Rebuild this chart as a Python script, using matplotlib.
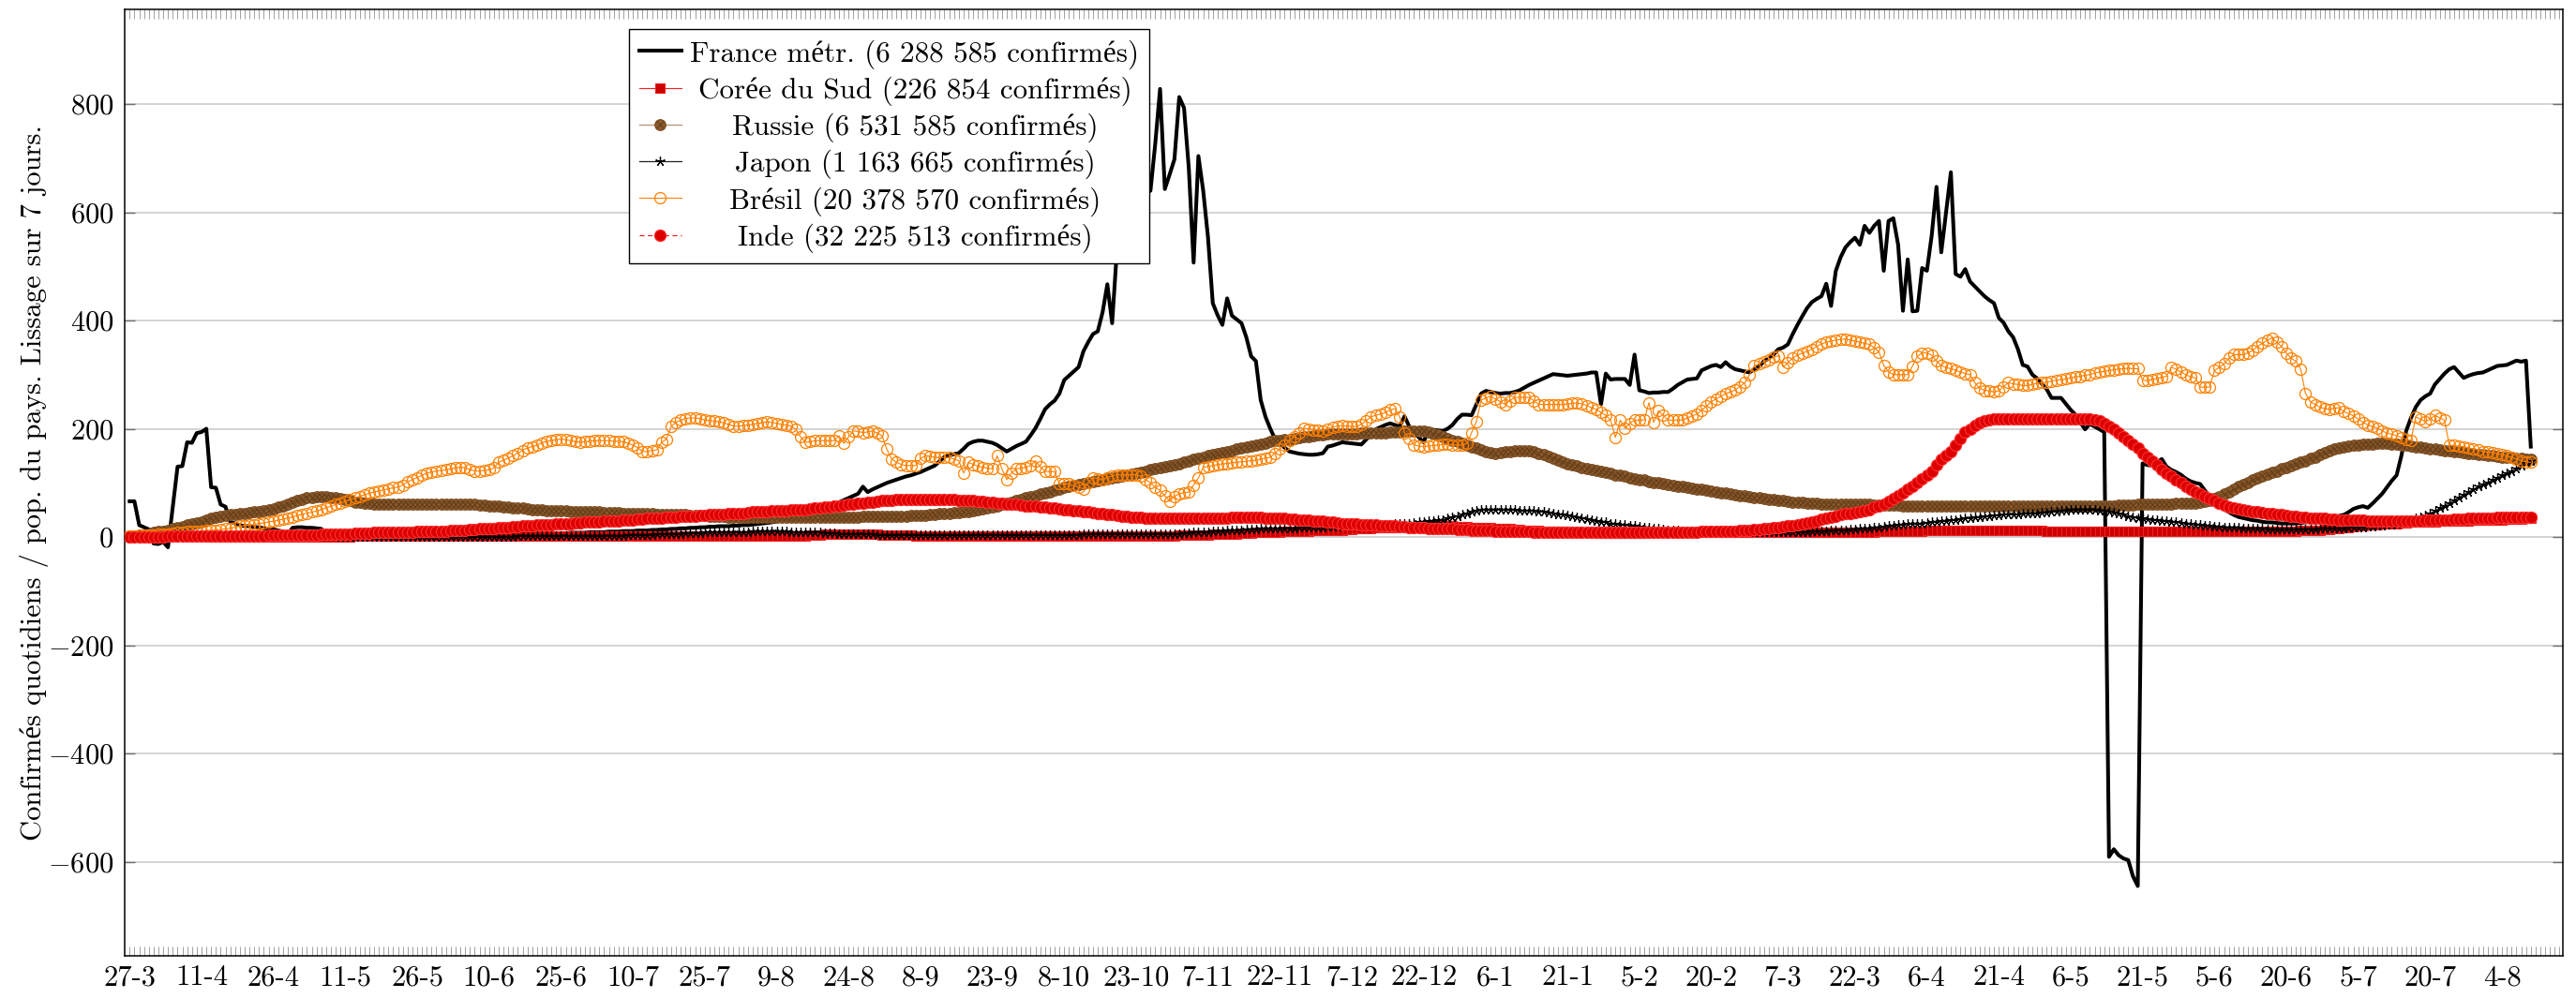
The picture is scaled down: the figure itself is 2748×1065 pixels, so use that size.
import numpy as np
import matplotlib
matplotlib.use("Agg")
import matplotlib.pyplot as plt
from matplotlib.legend_handler import HandlerTuple

plt.rcParams['font.family'] = ['cmr10', 'Liberation Serif', 'DejaVu Serif']
plt.rcParams['mathtext.fontset'] = 'cm'
plt.rcParams['axes.formatter.use_mathtext'] = True
plt.rcParams['axes.unicode_minus'] = True

# ---- data: daily confirmed cases per million (7-day smoothing), from 27-3-2020 ----
tick_labels = ['27-3', '11-4', '26-4', '11-5', '26-5', '10-6', '25-6', '10-7', '25-7', '9-8',
               '24-8', '8-9', '23-9', '8-10', '23-10', '7-11', '22-11', '7-12', '22-12', '6-1',
               '21-1', '5-2', '20-2', '7-3', '22-3', '6-4', '21-4', '6-5', '21-5', '5-6',
               '20-6', '5-7', '20-7', '4-8']

labels = ['France métr. (6 288 585 confirmés)', 'Corée du Sud (226 854 confirmés)',
          'Russie (6 531 585 confirmés)', 'Japon (1 163 665 confirmés)',
          'Brésil (20 378 570 confirmés)', 'Inde (32 225 513 confirmés)']

france = [66, 66, 22, 18, 14, -12, -13, -9, -19, 55, 130, 131, 175, 174, 192,
          194, 200, 92, 91, 60, 56, 28, 25, 22, 20, 20, 18, 18, 16, 15,
          14, 12, 10, 5, 17, 18, 18, 17, 17, 16, 15, 6, 5, 5, 4,
          5, 5, 6, 6, 5, 5, 6, 6, 7, 7, 6, 6, 7, 7, 8,
          8, 8, 7, 7, 8, 8, 8, 9, 9, 8, 8, 7, 7, 7, 7,
          7, 7, 7, 7, 6, 6, 6, 7, 7, 7, 7, 7, 7, 7, 7,
          7, 7, 8, 8, 8, 8, 9, 9, 9, 9, 10, 10, 10, 11, 11,
          11, 12, 12, 12, 13, 13, 14, 14, 15, 15, 16, 16, 17, 17, 18,
          18, 19, 19, 20, 20, 20, 21, 21, 22, 22, 23, 24, 25, 26, 27,
          29, 31, 33, 35, 37, 39, 40, 42, 45, 48, 52, 56, 60, 64, 68,
          72, 76, 80, 93, 83, 88, 92, 96, 100, 103, 106, 109, 112, 114, 117,
          120, 124, 128, 132, 140, 148, 151, 153, 155, 163, 172, 176, 178, 178, 176,
          174, 170, 164, 158, 163, 168, 172, 176, 188, 201, 218, 236, 245, 252, 265,
          290, 298, 306, 314, 343, 360, 375, 380, 415, 467, 395, 530, 555, 575, 595,
          610, 625, 635, 640, 727, 828, 643, 670, 698, 813, 793, 681, 507, 704, 640,
          554, 432, 410, 392, 441, 409, 402, 395, 369, 334, 325, 253, 222, 200, 181,
          172, 165, 158, 156, 154, 153, 152, 152, 153, 155, 167, 169, 172, 175, 174,
          173, 172, 171, 180, 190, 199, 203, 207, 210, 207, 204, 223, 204, 194, 184,
          175, 199, 198, 197, 196, 200, 207, 218, 226, 226, 225, 245, 265, 270, 268,
          266, 265, 266, 266, 268, 271, 276, 281, 285, 289, 293, 297, 301, 300, 299,
          298, 299, 300, 301, 302, 304, 304, 245, 302, 291, 292, 292, 292, 281, 337,
          271, 269, 266, 267, 267, 268, 268, 274, 281, 286, 291, 292, 293, 308, 312,
          316, 318, 314, 323, 315, 310, 308, 306, 304, 310, 315, 325, 330, 337, 347,
          350, 356, 375, 392, 408, 423, 434, 440, 445, 468, 427, 492, 517, 535, 545,
          553, 540, 575, 562, 575, 584, 492, 584, 589, 540, 418, 513, 417, 418, 497,
          492, 557, 647, 526, 600, 674, 486, 481, 495, 472, 463, 454, 445, 438, 432,
          405, 396, 380, 369, 347, 318, 315, 300, 293, 283, 273, 257, 257, 257, 246,
          235, 226, 212, 199, 209, 204, 199, 194, -591, -577, -588, -594, -597, -627, -645,
          136, 133, 132, 138, 144, 130, 124, 120, 115, 108, 103, 100, 98, 86, 74,
          66, 58, 51, 46, 41, 37, 35, 33, 31, 30, 28, 27, 27, 26, 25,
          25, 25, 25, 26, 27, 28, 29, 30, 31, 34, 37, 39, 41, 46, 52,
          55, 57, 54, 62, 71, 80, 92, 104, 114, 150, 196, 220, 240, 253, 260,
          265, 282, 292, 302, 310, 314, 304, 294, 298, 301, 303, 304, 308, 312, 316,
          317, 318, 322, 326, 324, 326, 167]

coree = [2, 2, 2, 2, 2, 2, 1, 1, 1, 1, 1, 1, 1, 1, 1,
         1, 1, 0, 0, 0, 0, 0, 0, 0, 0, 0, 0, 0, 0, 0,
         0, 0, 0, 0, 0, 0, 0, 0, 0, 0, 0, 0, 0, 0, 0,
         0, 0, 1, 1, 1, 1, 1, 1, 1, 1, 1, 1, 1, 1, 1,
         1, 1, 1, 1, 1, 1, 1, 1, 1, 1, 1, 1, 1, 1, 1,
         1, 1, 1, 1, 1, 1, 1, 1, 1, 1, 1, 1, 1, 1, 1,
         1, 1, 1, 1, 1, 1, 1, 1, 1, 1, 1, 1, 1, 1, 1,
         1, 1, 1, 1, 1, 1, 1, 1, 1, 1, 1, 1, 1, 1, 1,
         1, 1, 1, 1, 1, 1, 1, 1, 1, 1, 1, 1, 1, 1, 1,
         1, 1, 1, 1, 1, 2, 2, 3, 4, 4, 5, 5, 5, 6, 6,
         6, 6, 6, 6, 5, 5, 5, 4, 4, 4, 3, 3, 3, 3, 2,
         2, 2, 2, 2, 2, 2, 2, 2, 2, 2, 2, 2, 2, 2, 2,
         2, 2, 2, 1, 1, 1, 1, 1, 1, 2, 2, 2, 2, 2, 2,
         2, 2, 2, 2, 2, 2, 2, 2, 2, 2, 2, 2, 2, 2, 2,
         2, 2, 2, 2, 2, 2, 2, 2, 2, 3, 3, 3, 3, 4, 4,
         4, 5, 5, 5, 6, 6, 6, 7, 7, 7, 8, 8, 8, 9, 9,
         9, 10, 10, 10, 11, 11, 11, 12, 12, 12, 13, 13, 13, 13, 14,
         14, 15, 15, 16, 16, 17, 17, 18, 18, 18, 19, 19, 19, 19, 20,
         20, 20, 20, 20, 20, 20, 20, 19, 19, 19, 18, 18, 18, 17, 17,
         16, 16, 15, 15, 14, 14, 13, 13, 12, 12, 11, 11, 10, 10, 10,
         9, 9, 9, 8, 8, 8, 8, 7, 7, 7, 7, 7, 7, 7, 7,
         7, 7, 8, 8, 8, 8, 8, 8, 8, 8, 8, 8, 8, 8, 8,
         8, 8, 8, 8, 8, 8, 8, 8, 8, 8, 8, 8, 8, 8, 8,
         8, 8, 8, 8, 8, 8, 8, 8, 9, 9, 9, 9, 9, 9, 9,
         9, 9, 9, 9, 9, 10, 10, 10, 10, 10, 11, 11, 11, 11, 11,
         12, 12, 12, 12, 12, 12, 12, 12, 13, 13, 13, 13, 13, 13, 13,
         13, 13, 12, 12, 12, 12, 12, 12, 12, 12, 11, 11, 11, 11, 11,
         11, 11, 11, 11, 11, 11, 11, 11, 11, 11, 11, 11, 11, 11, 11,
         11, 11, 11, 11, 11, 11, 10, 10, 10, 10, 10, 10, 10, 10, 10,
         10, 10, 10, 10, 10, 10, 10, 10, 10, 10, 10, 10, 11, 11, 11,
         11, 11, 11, 12, 12, 12, 13, 13, 14, 14, 15, 16, 17, 18, 19,
         20, 21, 22, 23, 23, 24, 24, 25, 25, 26, 26, 27, 27, 27, 28,
         28, 28, 29, 29, 29, 30, 30, 30, 30, 31, 31, 31, 31, 32, 32,
         32, 33, 33, 33, 33, 34, 34]

russie = [1, 2, 3, 4, 6, 8, 10, 11, 13, 15, 17, 19, 22, 24, 26,
          28, 31, 34, 37, 39, 40, 41, 42, 43, 44, 45, 46, 47, 48, 50,
          52, 55, 58, 61, 64, 67, 70, 72, 73, 74, 74, 74, 73, 72, 71,
          69, 67, 65, 64, 63, 62, 61, 60, 60, 60, 60, 60, 60, 60, 60,
          60, 60, 60, 60, 60, 60, 60, 60, 60, 60, 60, 60, 60, 59, 59,
          58, 58, 57, 56, 55, 54, 53, 53, 52, 51, 50, 50, 49, 49, 48,
          48, 48, 47, 47, 47, 46, 46, 46, 46, 45, 45, 45, 45, 44, 44,
          44, 44, 43, 43, 43, 42, 42, 42, 41, 41, 41, 41, 40, 40, 40,
          40, 39, 39, 38, 38, 37, 37, 37, 36, 36, 36, 36, 36, 36, 36,
          36, 36, 36, 36, 36, 36, 36, 36, 36, 36, 36, 36, 37, 37, 37,
          37, 37, 37, 38, 38, 38, 38, 38, 39, 39, 39, 39, 39, 40, 40,
          40, 40, 41, 42, 43, 44, 44, 45, 45, 46, 46, 48, 50, 52, 54,
          56, 58, 60, 62, 65, 67, 70, 72, 75, 77, 80, 82, 84, 87, 89,
          91, 93, 95, 97, 99, 101, 103, 104, 106, 108, 110, 111, 113, 114, 116,
          118, 120, 122, 124, 126, 128, 130, 132, 134, 136, 139, 141, 144, 146, 148,
          150, 152, 154, 156, 158, 160, 162, 164, 166, 168, 170, 172, 174, 176, 178,
          179, 180, 181, 182, 183, 185, 186, 187, 188, 189, 190, 190, 190, 190, 191,
          191, 191, 192, 192, 192, 193, 193, 193, 194, 194, 194, 195, 195, 196, 196,
          196, 194, 191, 188, 185, 182, 179, 176, 173, 170, 167, 164, 161, 158, 156,
          155, 156, 157, 158, 159, 160, 160, 159, 157, 155, 152, 149, 146, 142, 139,
          136, 134, 131, 129, 127, 125, 123, 121, 119, 117, 115, 114, 112, 110, 108,
          106, 105, 103, 101, 100, 99, 97, 96, 94, 93, 91, 90, 89, 88, 86,
          85, 84, 82, 81, 80, 78, 77, 76, 75, 73, 72, 71, 70, 69, 68,
          67, 66, 65, 64, 64, 63, 62, 62, 61, 61, 61, 60, 60, 60, 60,
          60, 60, 60, 60, 59, 59, 59, 59, 59, 59, 58, 58, 58, 58, 58,
          58, 58, 58, 57, 57, 57, 57, 57, 57, 57, 57, 57, 57, 57, 57,
          57, 57, 57, 57, 57, 57, 57, 57, 57, 57, 57, 57, 57, 57, 57,
          57, 57, 57, 57, 58, 58, 58, 58, 58, 58, 59, 59, 59, 59, 60,
          60, 60, 60, 60, 61, 61, 61, 62, 62, 62, 63, 63, 64, 66, 68,
          71, 75, 80, 84, 89, 93, 97, 101, 105, 109, 112, 116, 119, 122, 126,
          129, 132, 135, 138, 141, 145, 148, 152, 156, 159, 162, 164, 166, 168, 169,
          170, 171, 172, 172, 173, 173, 173, 172, 171, 170, 169, 168, 167, 166, 164,
          163, 162, 161, 160, 159, 158, 157, 156, 155, 154, 153, 152, 151, 150, 149,
          148, 147, 147, 146, 145, 144, 143]

japon = [1, 1, 1, 1, 1, 2, 2, 2, 2, 2, 3, 3, 3, 3, 4,
         4, 4, 4, 4, 4, 4, 4, 4, 4, 3, 3, 3, 3, 3, 2,
         2, 2, 2, 2, 1, 1, 1, 1, 1, 1, 1, 1, 1, 1, 0,
         0, 0, 0, 0, 0, 0, 0, 0, 0, 0, 0, 0, 0, 0, 0,
         0, 0, 0, 0, 0, 0, 0, 0, 0, 0, 0, 0, 0, 0, 0,
         0, 0, 0, 0, 0, 0, 1, 1, 1, 1, 1, 1, 1, 1, 1,
         1, 1, 1, 1, 1, 1, 1, 1, 1, 1, 2, 2, 2, 2, 3,
         3, 3, 4, 4, 4, 5, 5, 5, 6, 6, 6, 7, 7, 7, 7,
         8, 8, 8, 8, 8, 9, 9, 9, 9, 9, 10, 10, 10, 10, 10,
         10, 10, 10, 9, 9, 9, 9, 8, 8, 8, 7, 7, 7, 6, 6,
         6, 5, 5, 5, 5, 5, 4, 4, 4, 4, 4, 4, 4, 4, 4,
         4, 4, 4, 4, 4, 4, 4, 4, 4, 4, 4, 4, 4, 4, 4,
         4, 4, 4, 4, 4, 4, 4, 4, 4, 4, 4, 4, 4, 4, 4,
         4, 4, 4, 4, 5, 5, 5, 5, 5, 5, 5, 5, 5, 5, 5,
         5, 5, 5, 5, 5, 5, 5, 6, 6, 6, 7, 7, 8, 8, 9,
         9, 10, 11, 11, 12, 12, 13, 13, 14, 14, 14, 15, 15, 15, 15,
         16, 16, 16, 16, 17, 17, 17, 18, 18, 18, 19, 19, 19, 20, 20,
         20, 21, 21, 21, 22, 22, 22, 23, 23, 24, 24, 25, 25, 26, 27,
         28, 29, 30, 31, 32, 34, 36, 38, 41, 44, 47, 49, 50, 51, 51,
         51, 50, 50, 50, 50, 49, 49, 48, 48, 47, 46, 45, 44, 42, 41,
         40, 38, 36, 35, 33, 31, 29, 28, 27, 25, 24, 23, 22, 21, 20,
         19, 18, 17, 16, 15, 14, 13, 12, 12, 11, 10, 10, 10, 9, 9,
         9, 9, 8, 8, 8, 8, 8, 8, 8, 8, 8, 8, 8, 8, 8,
         8, 8, 8, 9, 9, 9, 10, 10, 11, 11, 12, 12, 13, 13, 14,
         14, 15, 15, 16, 17, 18, 19, 20, 21, 22, 23, 24, 24, 25, 25,
         26, 27, 28, 29, 30, 31, 32, 33, 34, 35, 36, 37, 38, 39, 40,
         40, 41, 41, 42, 42, 43, 43, 44, 44, 45, 45, 46, 47, 48, 49,
         50, 50, 51, 51, 51, 50, 49, 48, 46, 45, 43, 41, 39, 37, 35,
         34, 33, 32, 31, 30, 29, 28, 27, 26, 25, 24, 23, 22, 21, 20,
         19, 19, 18, 18, 17, 17, 16, 16, 15, 15, 15, 14, 14, 14, 14,
         14, 14, 14, 14, 14, 14, 14, 15, 15, 15, 16, 16, 16, 17, 17,
         18, 18, 19, 19, 20, 21, 22, 23, 24, 26, 28, 31, 34, 37, 40,
         44, 48, 53, 58, 63, 68, 73, 78, 83, 88, 93, 97, 101, 105, 109,
         114, 118, 122, 127, 132, 137, 141]

bresil = [2, 2, 3, 3, 4, 4, 5, 5, 6, 7, 8, 9, 10, 10, 11,
          11, 12, 12, 13, 14, 15, 16, 18, 20, 21, 22, 23, 25, 26, 28,
          29, 31, 33, 35, 37, 40, 42, 44, 46, 48, 51, 54, 57, 60, 63,
          66, 69, 72, 75, 78, 81, 83, 85, 87, 89, 91, 92, 96, 102, 106,
          110, 114, 118, 120, 122, 123, 124, 126, 128, 129, 128, 125, 122, 122, 123,
          124, 128, 138, 142, 146, 150, 155, 160, 165, 167, 170, 174, 177, 178, 180,
          181, 180, 178, 176, 175, 176, 177, 178, 178, 178, 178, 177, 177, 176, 173,
          170, 165, 158, 158, 160, 161, 175, 181, 204, 212, 216, 219, 220, 220, 219,
          216, 215, 214, 213, 211, 208, 205, 205, 206, 207, 208, 210, 211, 213, 212,
          210, 208, 207, 205, 199, 185, 175, 176, 178, 178, 178, 178, 178, 187, 173,
          185, 196, 195, 193, 194, 196, 192, 187, 162, 144, 138, 134, 132, 132, 132,
          145, 150, 149, 147, 147, 147, 147, 144, 141, 118, 138, 134, 131, 129, 127,
          126, 150, 126, 106, 118, 126, 127, 129, 132, 141, 130, 121, 121, 121, 98,
          98, 98, 95, 92, 89, 100, 109, 108, 106, 110, 113, 115, 115, 115, 115,
          115, 112, 106, 100, 92, 86, 76, 66, 75, 80, 82, 83, 96, 109, 129,
          130, 132, 134, 135, 136, 137, 138, 139, 140, 141, 142, 144, 146, 147, 155,
          163, 170, 178, 186, 193, 201, 200, 198, 197, 196, 200, 203, 205, 206, 205,
          204, 204, 208, 215, 222, 225, 227, 230, 235, 237, 222, 193, 182, 170, 168,
          167, 168, 169, 170, 171, 171, 170, 170, 170, 173, 193, 213, 253, 257, 260,
          255, 250, 245, 252, 258, 258, 258, 258, 252, 245, 245, 245, 245, 245, 245,
          246, 247, 248, 246, 243, 239, 236, 230, 225, 216, 184, 216, 201, 210, 216,
          216, 216, 248, 212, 233, 225, 216, 216, 216, 216, 220, 224, 227, 234, 242,
          250, 255, 260, 265, 268, 272, 278, 285, 300, 317, 320, 324, 328, 332, 335,
          314, 322, 331, 336, 340, 343, 347, 352, 357, 360, 362, 364, 365, 366, 364,
          362, 360, 358, 356, 350, 342, 317, 305, 300, 300, 300, 300, 316, 334, 340,
          340, 336, 325, 317, 313, 311, 308, 305, 302, 300, 285, 275, 271, 270, 268,
          270, 278, 285, 283, 282, 280, 280, 282, 284, 285, 286, 288, 290, 291, 292,
          294, 296, 297, 299, 300, 303, 305, 306, 308, 309, 310, 311, 312, 311, 311,
          290, 289, 291, 293, 295, 297, 314, 310, 305, 300, 296, 294, 277, 277, 277,
          308, 313, 320, 330, 337, 337, 337, 340, 345, 352, 358, 363, 368, 360, 352,
          340, 330, 325, 310, 265, 250, 245, 240, 237, 236, 238, 239, 232, 228, 224,
          218, 212, 207, 204, 201, 196, 192, 190, 187, 184, 181, 178, 222, 218, 213,
          218, 225, 220, 216, 170, 169, 168, 167, 165, 163, 161, 158, 157, 156, 154,
          152, 150, 147, 144, 141, 139, 138]

inde = [0, 0, 0, 0, 0, 0, 0, 0, 1, 1, 1, 1, 1, 1, 1,
        1, 1, 1, 1, 1, 1, 2, 2, 2, 2, 2, 2, 2, 2, 3,
        3, 3, 3, 3, 3, 4, 4, 4, 4, 4, 5, 5, 5, 5, 6,
        6, 6, 7, 7, 7, 7, 8, 8, 8, 8, 8, 9, 9, 9, 9,
        10, 10, 10, 10, 11, 11, 11, 12, 12, 13, 13, 14, 14, 15, 15,
        16, 16, 17, 18, 18, 19, 19, 20, 21, 21, 22, 22, 23, 23, 24,
        24, 25, 25, 26, 26, 27, 27, 28, 28, 29, 29, 30, 30, 31, 32,
        32, 33, 33, 34, 34, 35, 35, 36, 37, 37, 38, 38, 39, 39, 40,
        40, 41, 41, 42, 42, 43, 43, 44, 44, 45, 46, 46, 47, 47, 48,
        48, 49, 49, 50, 50, 51, 51, 52, 53, 54, 55, 56, 57, 58, 59,
        60, 61, 62, 63, 64, 65, 66, 67, 68, 68, 69, 69, 70, 70, 70,
        70, 70, 70, 70, 70, 69, 69, 69, 68, 68, 67, 67, 66, 66, 65,
        64, 63, 62, 61, 60, 60, 59, 58, 57, 57, 56, 55, 54, 53, 52,
        51, 50, 49, 48, 47, 46, 45, 44, 43, 42, 41, 40, 39, 38, 37,
        36, 36, 35, 35, 35, 34, 34, 34, 34, 34, 34, 34, 34, 34, 34,
        34, 34, 35, 35, 35, 36, 36, 37, 37, 37, 36, 36, 35, 35, 35,
        34, 34, 33, 33, 32, 31, 31, 30, 29, 29, 28, 27, 26, 25, 25,
        24, 24, 23, 23, 22, 22, 21, 21, 20, 20, 19, 19, 18, 18, 17,
        17, 16, 16, 16, 15, 15, 15, 14, 14, 14, 13, 13, 13, 12, 12,
        11, 11, 11, 10, 10, 10, 10, 10, 9, 9, 9, 9, 9, 9, 8,
        8, 8, 8, 8, 8, 8, 8, 8, 8, 8, 8, 8, 8, 8, 8,
        8, 8, 8, 8, 8, 8, 8, 8, 8, 9, 9, 9, 9, 10, 10,
        10, 10, 10, 11, 11, 11, 12, 12, 13, 14, 14, 15, 16, 17, 18,
        19, 20, 21, 23, 24, 26, 28, 30, 33, 35, 37, 39, 41, 43, 44,
        45, 46, 48, 51, 55, 58, 60, 66, 71, 76, 82, 88, 94, 100, 108,
        115, 122, 133, 144, 150, 158, 170, 182, 194, 200, 206, 211, 214, 216, 218,
        218, 218, 218, 218, 218, 218, 218, 218, 218, 218, 218, 218, 218, 218, 218,
        218, 218, 218, 218, 218, 216, 214, 210, 205, 200, 193, 186, 179, 172, 165,
        155, 148, 140, 133, 125, 118, 112, 106, 100, 94, 89, 84, 79, 75, 71,
        67, 63, 59, 56, 54, 52, 50, 48, 47, 46, 45, 44, 43, 42, 41,
        40, 39, 38, 37, 36, 35, 35, 34, 34, 33, 33, 32, 32, 32, 31,
        31, 31, 30, 30, 30, 29, 29, 29, 29, 29, 30, 30, 30, 30, 31,
        31, 31, 32, 32, 32, 33, 33, 33, 34, 34, 34, 35, 35, 35, 36,
        36, 36, 37, 37, 37, 37, 37]

# ---- figure ----
fig = plt.figure(figsize=(27.48, 10.65), dpi=100)
ax = fig.add_axes([0.04822, 0.04225, 0.94669, 0.94836])

def xs(v):
    return np.arange(len(v))

h_fr, = ax.plot(xs(france), france, color='black', lw=2.9, zorder=3)
h_co, = ax.plot(xs(coree), coree, color='#ff1a1a', lw=0.8, marker='s', ms=7.5,
                mfc='#cc0000', mec='#ee2020', mew=0.8, zorder=4)
h_ru, = ax.plot(xs(russie), russie, color='#b39a80', lw=1.0, marker='o', ms=8.4,
                mfc='#8c5a2c', mec='#7a4c22', mew=0.8, zorder=5)
h_rux, = ax.plot(xs(russie), russie, ls='none', marker='x', ms=5.3,
                 mec='#5e3b17', mew=0.7, zorder=5)
h_ja, = ax.plot(xs(japon), japon, color='#222222', lw=0.9, marker=(5, 2, 0), ms=7.5,
                mec='black', mew=0.9, zorder=6)
h_br, = ax.plot(xs(bresil), bresil, color='#ff8000', lw=0.8, marker='o', ms=8.6,
                mfc='none', mec='#ff8000', mew=0.9, zorder=7)
h_in, = ax.plot(xs(inde), inde, color='#ff1a1a', lw=0.9, ls=(0, (4, 3)), marker='o', ms=8.8,
                mfc='#dd0000', mec='#ff3030', mew=0.8, zorder=8)

ax.set_xlim(-1.13, 507.7)
ax.set_ylim(-774, 975)

# x ticks
ax.set_xticks(np.arange(len(tick_labels)) * 15)
ax.set_xticklabels(tick_labels)
ax.set_xticks(np.arange(0, 508), minor=True)
ax.tick_params(axis='x', which='both', direction='in', top=True, bottom=True,
               length=7.5, width=0.7, color='#a0a0a0', labelsize=22, pad=7)

# y ticks
ax.set_yticks([-600, -400, -200, 0, 200, 400, 600, 800])
ax.tick_params(axis='y', which='major', direction='in', left=True, right=True,
               length=8, width=1.0, color='#707070', labelsize=22, pad=8)
ax.yaxis.grid(True, color='#c8c8c8', lw=1.1)
ax.set_axisbelow(True)

for s in ax.spines.values():
    s.set_linewidth(1.1)
    s.set_color('black')

ax.set_ylabel('Confirmés quotidiens / pop. du pays. Lissage sur 7 jours.', fontsize=22)
ax.yaxis.set_label_coords(-0.031, 0.5)

leg = ax.legend([h_fr, h_co, (h_ru, h_rux), h_ja, h_br, h_in], labels,
                handler_map={tuple: HandlerTuple(ndivide=1)},
                loc='upper left', bbox_to_anchor=(0.207, 0.979), borderaxespad=0,
                fontsize=22.4, frameon=True, fancybox=False, framealpha=1,
                edgecolor='black', handlelength=1.45, handletextpad=0.3,
                borderpad=0.35, labelspacing=0.25, numpoints=1)
leg.get_frame().set_linewidth(1.0)
leg.set_zorder(20)

# center legend texts (as in the original)
fig.canvas.draw()
r = fig.canvas.get_renderer()
texts = leg.get_texts()
ws = [t.get_window_extent(r).width for t in texts]
mw = max(ws)
for t, w in zip(texts, ws):
    t.set_x((mw - w) / 2.0)

fig.savefig('out.png', dpi=100)
